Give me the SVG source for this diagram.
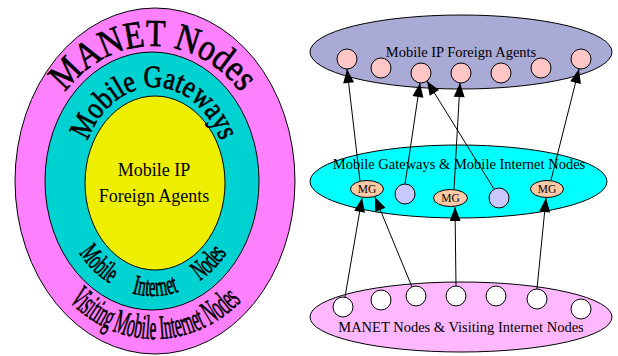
<svg xmlns="http://www.w3.org/2000/svg" width="618" height="356" viewBox="0 0 618 356">
<style>
.ser{font-family:"Liberation Serif","Times New Roman",serif;fill:#000}
.wa{stroke:#000;stroke-width:0.7}
.big{stroke:#000;stroke-width:1}
.edge{stroke:#000;stroke-width:1;fill:none;marker-end:url(#ah)}
.fa{fill:#FFC6C6;stroke:#000;stroke-width:1}
.mg{fill:#FFC9A6;stroke:#000;stroke-width:1}
.mn{fill:#C8C8FF;stroke:#000;stroke-width:1}
.vn{fill:#FFFFFF;stroke:#000;stroke-width:1}
.lbl{font-size:14.5px;text-anchor:middle}
.mgt{font-size:11.5px;text-anchor:middle}
</style>
<defs>
<marker id="ah" markerUnits="userSpaceOnUse" markerWidth="15" markerHeight="12" refX="14" refY="6" orient="auto" overflow="visible"><path d="M0,0.5L14,6L0,11.5z" fill="#000"/></marker>
<path id="pManet" d="M 37 180 A 116 134 0 0 1 269 180"/>
<path id="pGate" d="M 80 183 A 74 96 0 0 1 228 183"/>
<path id="pMin" d="M 59 183 A 94 113 0 0 0 247 183"/>
<path id="pVis" d="M 23 183 A 132 156 0 0 0 287 183"/>
</defs>

<g id="left-manet">
<ellipse class="big" cx="155" cy="181" rx="140" ry="173" fill="#FF80FF"/>
</g>
<g id="left-gateways">
<ellipse class="big" cx="152" cy="181" rx="107" ry="129" fill="#00D2D2"/>
</g>
<g id="left-fa">
<ellipse class="big" cx="155" cy="183" rx="70" ry="87" fill="#EEEE00"/>
<text class="ser" x="154" y="176" font-size="18" text-anchor="middle">Mobile IP</text>
<text class="ser" x="154" y="202" font-size="18" text-anchor="middle">Foreign Agents</text>
</g>
<g id="left-labels">
<text class="ser wa" font-size="38"><textPath href="#pManet" startOffset="50%" text-anchor="middle" textLength="206" lengthAdjust="spacingAndGlyphs">MANET Nodes</textPath></text>
<text class="ser wa" font-size="31"><textPath href="#pGate" startOffset="50%" text-anchor="middle" textLength="182" lengthAdjust="spacingAndGlyphs">Mobile Gateways</textPath></text>
<text class="ser wa" font-size="28" word-spacing="36"><textPath href="#pMin" startOffset="50%" text-anchor="middle" textLength="178" lengthAdjust="spacingAndGlyphs">Mobile Internet Nodes</textPath></text>
<text class="ser wa" font-size="34"><textPath href="#pVis" startOffset="50%" text-anchor="middle" textLength="194" lengthAdjust="spacingAndGlyphs">Visiting Mobile Internet Nodes</textPath></text>
</g>

<g id="fa-layer">
<ellipse class="big" cx="461" cy="52" rx="151" ry="37" fill="#AAAAD6"/>
<text class="ser lbl" x="461" y="57">Mobile IP Foreign Agents</text>
</g>
<g id="mg-layer">
<ellipse class="big" cx="458.5" cy="181.5" rx="148.5" ry="36.5" fill="#00FFFF"/>
<text class="ser lbl" x="459" y="169">Mobile Gateways &amp; Mobile Internet Nodes</text>
</g>
<g id="manet-layer">
<ellipse class="big" cx="461" cy="317" rx="151" ry="35" fill="#FFB8FF"/>
<text class="ser lbl" x="461" y="332">MANET Nodes &amp; Visiting Internet Nodes</text>
</g>

<g id="connectors">
<line class="edge" x1="345" y1="297" x2="362" y2="198"/>
<line class="edge" x1="412" y1="287" x2="375" y2="197"/>
<line class="edge" x1="456" y1="286" x2="455" y2="207"/>
<line class="edge" x1="537" y1="289" x2="546" y2="198"/>
<line class="edge" x1="360" y1="181" x2="347" y2="69"/>
<line class="edge" x1="405" y1="184" x2="420" y2="83"/>
<line class="edge" x1="454" y1="189" x2="460" y2="83"/>
<line class="edge" x1="494" y1="189" x2="427" y2="81"/>
<line class="edge" x1="551" y1="180" x2="579" y2="69"/>
</g>

<g id="fa1"><circle class="fa" cx="347" cy="59" r="10"/></g>
<g id="fa2"><circle class="fa" cx="381" cy="68" r="10"/></g>
<g id="fa3"><circle class="fa" cx="421" cy="73" r="10"/></g>
<g id="fa4"><circle class="fa" cx="461" cy="73" r="10"/></g>
<g id="fa5"><circle class="fa" cx="501" cy="73" r="10"/></g>
<g id="fa6"><circle class="fa" cx="541" cy="68" r="10"/></g>
<g id="fa7"><circle class="fa" cx="581" cy="59" r="10"/></g>

<g id="mg1"><ellipse class="mg" cx="367" cy="189" rx="16.5" ry="8.5"/><text class="ser mgt" x="367" y="193">MG</text></g>
<g id="mn1"><circle class="mn" cx="405" cy="194" r="10"/></g>
<g id="mg2"><ellipse class="mg" cx="450.5" cy="198" rx="17" ry="8.5"/><text class="ser mgt" x="450.5" y="202">MG</text></g>
<g id="mn2"><circle class="mn" cx="499" cy="198" r="10"/></g>
<g id="mg3"><ellipse class="mg" cx="547" cy="189" rx="16.5" ry="8.5"/><text class="ser mgt" x="547" y="193">MG</text></g>

<g id="vn1"><circle class="vn" cx="343" cy="307" r="10"/></g>
<g id="vn2"><circle class="vn" cx="381" cy="300" r="10"/></g>
<g id="vn3"><circle class="vn" cx="416" cy="296" r="10"/></g>
<g id="vn4"><circle class="vn" cx="456" cy="296" r="10"/></g>
<g id="vn5"><circle class="vn" cx="496" cy="296" r="10"/></g>
<g id="vn6"><circle class="vn" cx="537" cy="299" r="10"/></g>
<g id="vn7"><circle class="vn" cx="581" cy="309" r="10"/></g>
</svg>
